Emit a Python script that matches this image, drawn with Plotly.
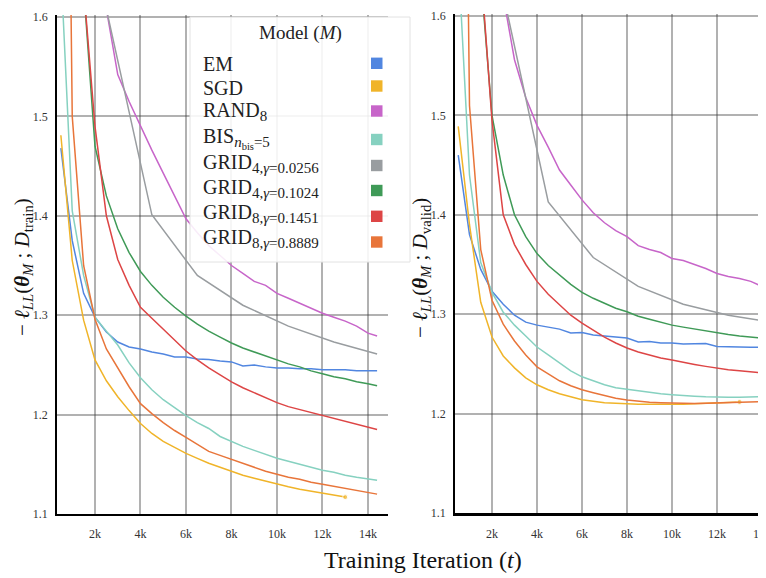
import plotly.graph_objects as go

# ---------------- data ----------------
X_FULL = [500, 1000, 1500, 2000, 2500, 3000, 3500, 4000, 4500, 5000, 5500, 6000, 6500, 7000,
          7500, 8000, 8500, 9000, 9500, 10000, 10500, 11000, 11500, 12000, 12500, 13000,
          13500, 14000, 14400]
X_SGD = [500, 1000, 1500, 2000, 2500, 3000, 3500, 4000, 4500, 5000, 5500, 6000, 6500, 7000,
         7500, 8000, 8500, 9000, 9500, 10000, 10500, 11000, 11500, 12000, 12500, 13000]
X_LATE = [2500, 3000, 3500, 4000, 4500, 5000, 5500, 6000, 6500, 7000, 7500, 8000, 8500, 9000,
          9500, 10000, 10500, 11000, 11500, 12000, 12500, 13000, 13500, 14000, 14400]
X_MID = [1500, 2000, 2500, 3000, 3500, 4000, 4500, 5000, 5500, 6000, 6500, 7000, 7500, 8000,
         8500, 9000, 9500, 10000, 10500, 11000, 11500, 12000, 12500, 13000, 13500, 14000, 14400]
X_GRID4A = [500, 2500, 4500, 6500, 8500, 10500, 12500, 14400]

SUB = '<sub><span style="font-size:15px">{}</span></sub>'
model_names = ["EM", "SGD", "RAND" + SUB.format("8"),
               "BIS" + SUB.format("<i>n</i><sub>bis</sub>=5"),
               "GRID" + SUB.format("4,<i>γ</i>=0.0256"), "GRID" + SUB.format("4,<i>γ</i>=0.1024"),
               "GRID" + SUB.format("8,<i>γ</i>=0.1451"), "GRID" + SUB.format("8,<i>γ</i>=0.8889")]
colors = ["#5186E0", "#F0B429", "#C765C9", "#86D1C0", "#999DA0", "#3F9A57", "#DD4545", "#E8753A"]

# training NLL
em_train = [1.468, 1.375, 1.322, 1.298, 1.283, 1.273, 1.268, 1.266, 1.263, 1.261, 1.258, 1.258,
            1.256, 1.2555, 1.254, 1.253, 1.249, 1.250, 1.248, 1.247, 1.247, 1.246, 1.246, 1.245,
            1.245, 1.245, 1.244, 1.244, 1.244]
sgd_train = [1.481, 1.355, 1.295, 1.255, 1.234, 1.218, 1.204, 1.191, 1.181, 1.173, 1.167, 1.161,
             1.156, 1.151, 1.147, 1.143, 1.139, 1.136, 1.133, 1.130, 1.1275, 1.125, 1.123, 1.121,
             1.119, 1.117]
rand_train = [1.608, 1.542, 1.515, 1.490, 1.466, 1.443, 1.420, 1.397, 1.383, 1.370, 1.360, 1.350,
              1.342, 1.334, 1.330, 1.322, 1.317, 1.312, 1.307, 1.302, 1.298, 1.294, 1.289, 1.282,
              1.279]
bis_train = [1.650, 1.405, 1.340, 1.298, 1.284, 1.270, 1.252, 1.237, 1.225, 1.215, 1.207, 1.199,
             1.192, 1.186, 1.178, 1.173, 1.168, 1.164, 1.160, 1.156, 1.153, 1.150, 1.147, 1.144,
             1.142, 1.139, 1.137, 1.135, 1.134]
grid4a_train = [2.100, 1.608, 1.401, 1.340, 1.310, 1.289, 1.273, 1.261]
grid4b_train = [1.630, 1.470, 1.420, 1.387, 1.363, 1.344, 1.330, 1.318, 1.308, 1.299, 1.291,
                1.284, 1.278, 1.272, 1.267, 1.263, 1.259, 1.255, 1.251, 1.248, 1.244, 1.241,
                1.238, 1.236, 1.233, 1.231, 1.229]
grid8a_train = [1.630, 1.490, 1.400, 1.356, 1.330, 1.308, 1.297, 1.286, 1.275, 1.264, 1.255,
                1.247, 1.240, 1.233, 1.227, 1.222, 1.217, 1.212, 1.208, 1.205, 1.202, 1.199,
                1.196, 1.193, 1.190, 1.187, 1.185]
grid8b_train = [2.500, 1.500, 1.350, 1.296, 1.266, 1.247, 1.228, 1.211, 1.201, 1.192, 1.184, 1.177,
                1.170, 1.163, 1.159, 1.155, 1.151, 1.147, 1.143, 1.140, 1.137, 1.135, 1.132,
                1.130, 1.128, 1.126, 1.124, 1.122, 1.120]

# validation NLL
em_valid = [1.460, 1.380, 1.345, 1.323, 1.310, 1.299, 1.292, 1.289, 1.287, 1.285, 1.281, 1.2815,
            1.279, 1.278, 1.277, 1.276, 1.272, 1.2725, 1.271, 1.271, 1.270, 1.2705, 1.2705,
            1.2675, 1.2675, 1.267, 1.2667, 1.2665, 1.2665]
sgd_valid = [1.489, 1.390, 1.312, 1.277, 1.258, 1.246, 1.236, 1.229, 1.224, 1.220, 1.217, 1.214,
             1.2125, 1.211, 1.2105, 1.2098, 1.2095, 1.2093, 1.2092, 1.2093, 1.2095, 1.210,
             1.2103, 1.2107, 1.2112, 1.2117]
rand_valid = [1.620, 1.556, 1.518, 1.490, 1.468, 1.445, 1.430, 1.415, 1.402, 1.392, 1.384, 1.378,
              1.369, 1.365, 1.362, 1.356, 1.354, 1.350, 1.346, 1.341, 1.338, 1.336, 1.333, 1.328,
              1.324]
bis_valid = [1.660, 1.440, 1.352, 1.322, 1.302, 1.289, 1.278, 1.267, 1.259, 1.251, 1.243, 1.237,
             1.233, 1.229, 1.226, 1.2245, 1.2225, 1.221, 1.220, 1.219, 1.218, 1.2175, 1.217,
             1.2165, 1.2165, 1.2165, 1.2168, 1.217, 1.2172]
grid4a_valid = [2.100, 1.622, 1.413, 1.357, 1.328, 1.310, 1.299, 1.292]
grid4b_valid = [1.640, 1.500, 1.440, 1.400, 1.378, 1.361, 1.349, 1.339, 1.330, 1.322, 1.316,
                1.311, 1.306, 1.3025, 1.298, 1.295, 1.292, 1.289, 1.287, 1.285, 1.283, 1.281,
                1.2795, 1.278, 1.277, 1.276, 1.275]
grid8a_valid = [1.650, 1.495, 1.400, 1.370, 1.350, 1.333, 1.320, 1.309, 1.299, 1.291, 1.284,
                1.277, 1.271, 1.266, 1.262, 1.259, 1.256, 1.254, 1.2515, 1.2495, 1.2475, 1.2456,
                1.244, 1.243, 1.2418, 1.2408, 1.240]
grid8b_valid = [2.500, 1.510, 1.365, 1.314, 1.290, 1.273, 1.259, 1.247, 1.240, 1.233, 1.228, 1.224,
                1.221, 1.218, 1.2155, 1.2137, 1.2125, 1.2115, 1.211, 1.2105, 1.2102, 1.2102,
                1.2103, 1.2105, 1.211, 1.2113, 1.2117, 1.212, 1.2122]

series_x = [X_FULL, X_SGD, X_LATE, X_FULL, X_GRID4A, X_MID, X_MID, X_FULL]
train_vals = [em_train, sgd_train, rand_train, bis_train, grid4a_train, grid4b_train,
              grid8a_train, grid8b_train]
valid_vals = [em_valid, sgd_valid, rand_valid, bis_valid, grid4a_valid, grid4b_valid,
              grid8a_valid, grid8b_valid]

x_tickvals = [2000, 4000, 6000, 8000, 10000, 12000, 14000]
x_ticktext = ["2k", "4k", "6k", "8k", "10k", "12k", "14k"]
y_tickvals = [1.1, 1.2, 1.3, 1.4, 1.5, 1.6]
y_ticktext = ["1.1", "1.2", "1.3", "1.4", "1.5", "1.6"]

# ---------------- figure ----------------
W, H = 766, 578
OFF = 8  # page body margin
FONT = "Liberation Serif"


def fx(p):
    return (p - OFF) / W


def fy(p):
    return 1 - (p - OFF) / H


fig = go.Figure()
for k in range(len(model_names)):
    for vals, xa, ya in ((train_vals[k], "x", "y"), (valid_vals[k], "x2", "y2")):
        xs = series_x[k]
        is_sgd = (k == 1)
        fig.add_trace(go.Scatter(
            x=xs, y=vals, xaxis=xa, yaxis=ya,
            mode="lines+markers" if is_sgd else "lines",
            line=dict(color=colors[k], width=1.5),
            marker=dict(size=[0] * (len(xs) - 1) + [5], color=colors[k]) if is_sgd else None,
            showlegend=False, hoverinfo="skip",
        ))

grid_col = "rgba(60,60,60,0.4)"
common_x = dict(tickvals=x_tickvals, ticktext=x_ticktext, showgrid=True, gridcolor=grid_col,
                gridwidth=1.6, zeroline=False, showline=True, linecolor="black", ticks="",
                automargin=False, ticklabeloverflow="allow", ticklabelstandoff=8,
                tickfont=dict(family=FONT, size=12, color="#333"))
common_y = dict(tickvals=y_tickvals, ticktext=y_ticktext, showgrid=True, gridcolor=grid_col,
                gridwidth=1.6, zeroline=False, showline=True, linecolor="black", ticks="",
                automargin=False, ticklabeloverflow="allow", ticklabelstandoff=5,
                tickfont=dict(family=FONT, size=12, color="#333"))

fig.update_layout(
    template="none",
    width=W, height=H,
    margin=dict(l=0, r=0, t=0, b=0, autoexpand=False),
    paper_bgcolor="white", plot_bgcolor="white",
    showlegend=False,
    xaxis=dict(domain=[fx(57), fx(388)], range=[330, 14880], anchor="y", linewidth=1.5,
               **common_x),
    yaxis=dict(domain=[fy(514), fy(15)], range=[1.1, 1.602], anchor="x", linewidth=1.5,
               **common_y),
    xaxis2=dict(domain=[fx(455), 1.0], range=[356, 14533], anchor="y2", linewidth=2.5,
                **common_x),
    yaxis2=dict(domain=[fy(513), fy(14)], range=[1.1, 1.602], anchor="x2", linewidth=1.5,
                **common_y),
)

shapes = []
annotations = []
# legend box
shapes.append(dict(type="rect", xref="paper", yref="paper", x0=fx(190), x1=fx(410),
                   y0=fy(262), y1=fy(17), fillcolor="rgba(255,255,255,0.88)",
                   line=dict(color="#e2e2e2", width=1), layer="above"))
annotations.append(dict(xref="paper", yref="paper", x=fx(300), y=fy(33), text="Model (<i>M</i>)",
                        showarrow=False, xanchor="center", yanchor="middle",
                        font=dict(family=FONT, size=19, color="#222")))
text_rows = [64, 88, 112, 138, 163, 188, 213, 238]
sq_rows = [63.3, 86, 111, 139.5, 165.5, 190.5, 216.3, 242]
for name, col, ty, sy in zip(model_names, colors, text_rows, sq_rows):
    annotations.append(dict(xref="paper", yref="paper", x=fx(201), y=fy(ty), text=name,
                            showarrow=False, xanchor="left", yanchor="middle",
                            font=dict(family=FONT, size=20, color="#222")))
    shapes.append(dict(type="rect", xref="paper", yref="paper", x0=fx(371), x1=fx(382.5),
                       y0=fy(sy + 5.7), y1=fy(sy - 5.7), fillcolor=col,
                       line=dict(width=0), layer="above"))

# axis titles
annotations.append(dict(xref="paper", yref="paper", x=fx(23), y=fy(267), textangle=-90,
                        text="− <i>ℓ</i><sub><i>LL</i></sub>(<b><i>θ</i></b><sub><i>M</i></sub> ; "
                             "<i>D</i><sub>train</sub>)",
                        showarrow=False, xanchor="center", yanchor="middle",
                        font=dict(family=FONT, size=21, color="#111")))
annotations.append(dict(xref="paper", yref="paper", x=fx(421), y=fy(268), textangle=-90,
                        text="− <i>ℓ</i><sub><i>LL</i></sub>(<b><i>θ</i></b><sub><i>M</i></sub> ; "
                             "<i>D</i><sub>valid</sub>)",
                        showarrow=False, xanchor="center", yanchor="middle",
                        font=dict(family=FONT, size=21, color="#111")))
annotations.append(dict(xref="paper", yref="paper", x=fx(423), y=fy(560),
                        text="Training Iteration (<i>t</i>)",
                        showarrow=False, xanchor="center", yanchor="middle",
                        font=dict(family=FONT, size=24, color="#111")))

fig.update_layout(shapes=shapes, annotations=annotations)
fig.write_html("out.html")
